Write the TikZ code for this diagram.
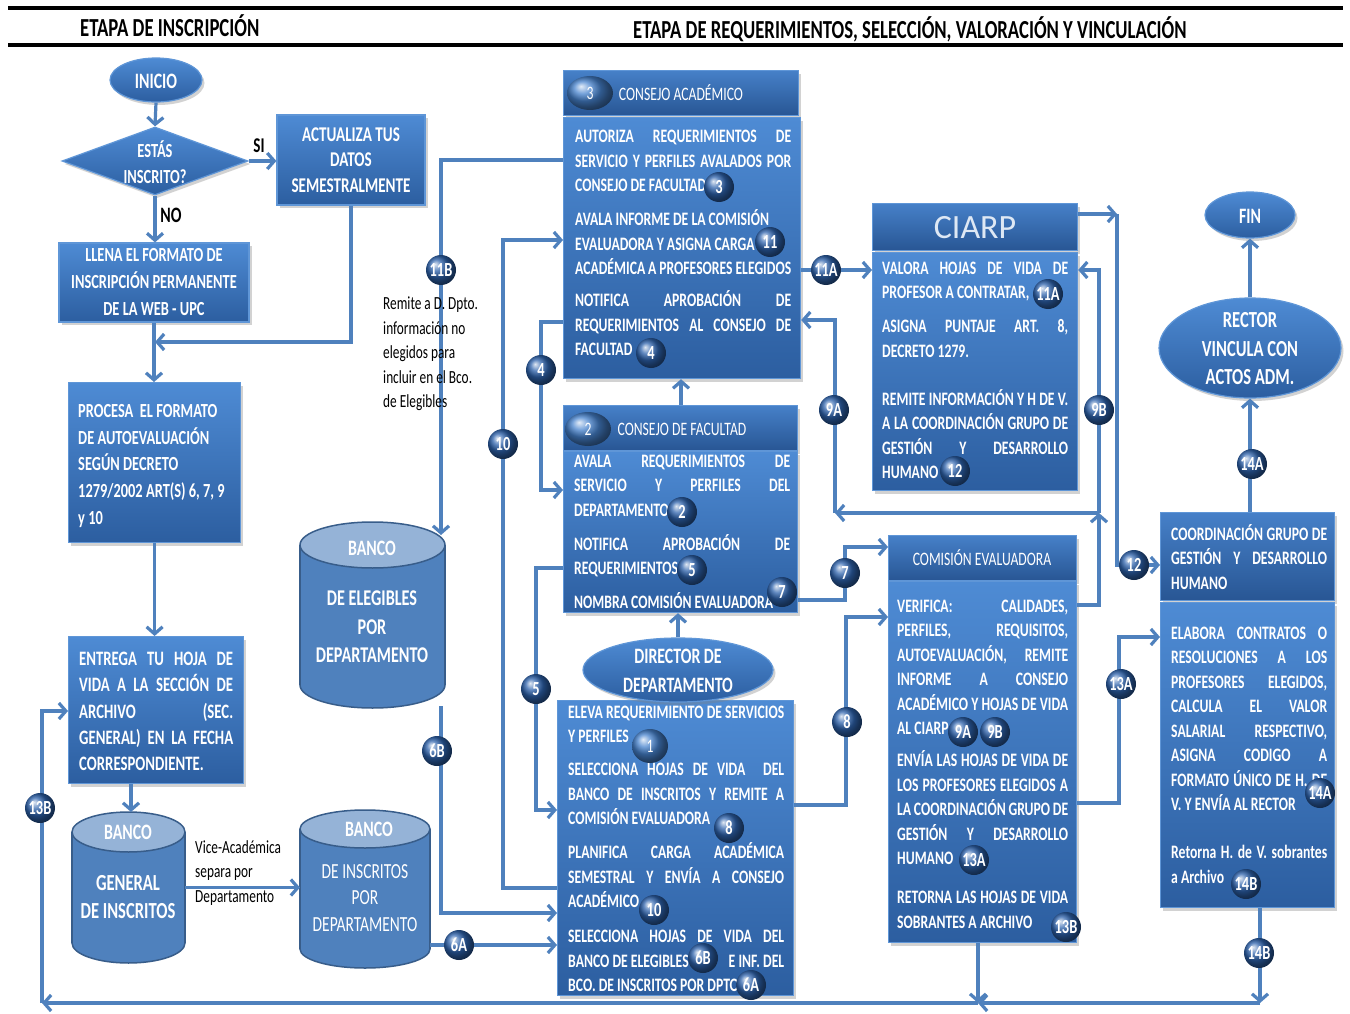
\documentclass[tikz,border=0pt]{standalone}
\usepackage{fontspec}
\setmainfont{Carlito}[FakeStretch=0.72]
\newfontfamily\widefont{Carlito}
\usetikzlibrary{arrows.meta,shapes.geometric,shadows}
\definecolor{lineblue}{RGB}{79,129,189}
\definecolor{boxtop}{RGB}{78,139,212}
\definecolor{boxbot}{RGB}{44,94,160}
\definecolor{boxedge}{RGB}{95,150,215}
\definecolor{hdrtop}{RGB}{70,128,200}
\definecolor{hdrbot}{RGB}{40,86,148}
\definecolor{cylbody}{RGB}{79,129,189}
\definecolor{cyltop}{RGB}{149,179,215}
\definecolor{cyledge}{RGB}{56,93,138}
\definecolor{badgeblue}{RGB}{45,98,172}
\definecolor{softblue}{RGB}{70,130,205}
\definecolor{ciarptext}{RGB}{222,232,244}
\newcommand{\J}[1]{\makebox[\hsize][s]{#1}}
\newcommand{\fs}[2]{\fontsize{#1}{#2}\selectfont}
\newcommand{\cyl}[6]{%
 \node[anchor=north west, minimum width={#3pt-#2pt}, minimum height={#5pt-#4pt}, inner sep=0pt, outer sep=0pt] (#1) at (#2,#4) {};
 \filldraw[fill=cylbody, draw=cyledge, line width=1.5pt] ({(#2+#3)/2},{#5-#6}) ellipse[x radius={(#3-#2)/2}, y radius=#6];
 \fill[cylbody] (#2,{#4+#6}) rectangle (#3,{#5-#6});
 \draw[cyledge, line width=1.5pt] (#2,{#4+#6}) -- (#2,{#5-#6}) (#3,{#4+#6}) -- (#3,{#5-#6});
 \filldraw[fill=cyltop, draw=cyledge, line width=1.5pt] ({(#2+#3)/2},{#4+#6}) ellipse[x radius={(#3-#2)/2}, y radius=#6];
}
\tikzset{
 conn/.style={draw=lineblue, line width=3.2pt, line join=miter},
 arr/.style={conn, -{Straight Barb[length=7pt,width=16pt]}},
 shad/.style={drop shadow={shadow xshift=2.5pt, shadow yshift=-3pt, opacity=0.35}},
 box/.style={rectangle, draw=boxedge, line width=1.2pt, top color=boxtop, bottom color=boxbot, shad, inner sep=0pt, text=white, align=flush center, font=\bfseries\fs{20}{26}},
 hdr/.style={box, top color=hdrtop, bottom color=hdrbot},
 nw/.style={anchor=north west},
 oval/.style={ellipse, draw=boxedge, line width=1.2pt, top color=boxtop, bottom color=boxbot, shad, inner sep=0pt},
 wtxt/.style={text=white, inner sep=0pt, align=flush center, font=\bfseries\fs{20}{26}},
 btxt/.style={text=white, inner sep=0pt, align=flush left, anchor=base west, font=\bfseries\fs{19}{24.5}},
 htxt/.style={text=white, inner sep=0pt, font=\fs{19}{22}},
 dark/.style={text=black, inner sep=0pt, align=flush left, font=\fs{18.5}{24.5}},
 badge/.style={circle, minimum size=30pt, inner sep=0pt, ball color=badgeblue, text=white, font=\bfseries\fs{20}{20}},
 hball/.style={ellipse, minimum width=46pt, minimum height=34pt, inner sep=0pt, ball color=softblue, text=white, font=\fs{19}{19}},
}
\begin{document}
\begin{tikzpicture}[x=1pt,y=-1pt]
\useasboundingbox (0,0) rectangle (1350,1014);
\fill[white] (0,0) rectangle (1350,1014);
\draw[line width=4.5pt] (8,8) -- (1343,8);
\draw[line width=4.5pt] (8,45) -- (1343,45);
\node[anchor=base west, inner sep=0pt, font=\bfseries\fs{26}{26}] (t1) at (80,36.5) {ETAPA DE INSCRIPCIÓN};
\node[anchor=base west, inner sep=0pt, font=\bfseries\fs{26}{26}] (t2) at (633,38.5) {ETAPA DE REQUERIMIENTOS, SELECCIÓN, VALORACIÓN Y VINCULACIÓN};

% ---------- left column ----------
\node[oval, minimum width=92pt, minimum height=44pt] (inicio) at (156,80) {};
\node[wtxt, font=\bfseries\fs{22}{22}] at (156,81) {INICIO};
\node[diamond, draw=boxedge, line width=1.2pt, top color=boxtop, bottom color=boxbot, shad, minimum width=186pt, minimum height=68pt, inner sep=0pt] (dia) at (155,161) {};
\node[wtxt, font=\bfseries\fs{20}{26}] at (155,162) {ESTÁS\\INSCRITO?};
\node[box, minimum width=148pt, minimum height=90pt, font=\bfseries\fs{21}{25.5}] (act) at (351,160) {ACTUALIZA TUS\\DATOS\\SEMESTRALMENTE};
\node[box, minimum width=190pt, minimum height=79pt, font=\bfseries\fs{20}{27}] (llena) at (154,282.5) {LLENA EL FORMATO DE\\INSCRIPCIÓN PERMANENTE\\DE LA WEB - UPC};
\node[box, nw, minimum width=172pt, minimum height=160pt] (proc) at (68,382) {};
\node[btxt, text width=168pt, font=\bfseries\fs{20}{26.75}] at (78,417.4) {PROCESA\ \ EL FORMATO\\DE AUTOEVALUACIÓN\\SEGÚN DECRETO\\\mbox{1279/2002 ART(S) 6, 7, 9}\\y 10};
\node[box, nw, minimum width=175pt, minimum height=147pt] (entr) at (68,636) {};
\node[btxt, text width=154pt, font=\bfseries\fs{20.5}{26.25}] at (79,665.5) {\J{ENTREGA TU HOJA DE}\\\J{VIDA A LA SECCIÓN DE}\\\J{ARCHIVO (SEC.}\\\J{GENERAL) EN LA FECHA}\\CORRESPONDIENTE.};

\cyl{belg}{300}{445}{522}{708}{23}
\cyl{bgen}{72}{185}{812}{963}{20}
\cyl{bins}{300}{430}{810}{968}{19}
\node[wtxt, font=\bfseries\fs{22}{22}] at (372,548) {BANCO};
\node[wtxt, font=\bfseries\fs{22.5}{28.5}] at (372,627) {DE ELEGIBLES\\POR\\DEPARTAMENTO};
\node[wtxt, font=\bfseries\fs{22}{22}] at (128,832) {BANCO};
\node[wtxt, font=\bfseries\fs{23}{28}] at (128,897) {GENERAL\\DE INSCRITOS};
\node[wtxt, font=\bfseries\fs{22}{22}] at (369,829) {BANCO};
\node[wtxt, font=\fs{21.5}{26.5}] at (365,898) {DE INSCRITOS\\POR\\DEPARTAMENTO};

% ---------- middle column ----------
\node[hdr, nw, minimum width=235pt, minimum height=45pt] (cah) at (563,70) {};
\node[hball] (cah3) at (590,93) {3};
\node[htxt] at (681,93) {CONSEJO ACADÉMICO};
\node[box, nw, minimum width=237pt, minimum height=261pt] (ca) at (563,117) {};
\node[btxt, text width=216pt] at (575,143) {\J{AUTORIZA REQUERIMIENTOS DE}\\\J{SERVICIO Y PERFILES AVALADOS POR}\\CONSEJO DE FACULTAD\\[9.5pt]AVALA INFORME DE LA COMISIÓN\\EVALUADORA Y ASIGNA CARGA\\\J{ACADÉMICA A PROFESORES ELEGIDOS}\\[7.5pt]\J{NOTIFICA APROBACIÓN DE}\\\J{REQUERIMIENTOS AL CONSEJO DE}\\FACULTAD};

\node[hdr, nw, minimum width=234pt, minimum height=45pt] (cfh) at (563,405) {};
\node[hball] (cfh2) at (588,429) {2};
\node[htxt] at (682,429) {CONSEJO DE FACULTAD};
\node[box, nw, minimum width=234pt, minimum height=161pt] (cf) at (563,451) {};
\node[btxt, text width=216pt] at (574,467) {\J{AVALA REQUERIMIENTOS DE}\\\J{SERVICIO Y PERFILES DEL}\\DEPARTAMENTO\\[9.5pt]\J{NOTIFICA APROBACIÓN DE}\\REQUERIMIENTOS\\[9.5pt]NOMBRA COMISIÓN EVALUADORA};

\node[box, nw, minimum width=236pt, minimum height=295pt] (db) at (557,700) {};
\node[oval, minimum width=190pt, minimum height=64pt] (dir) at (678,670) {};
\node[wtxt, font=\bfseries\fs{22}{29}] at (678,671) {DIRECTOR DE\\DEPARTAMENTO};
\node[btxt, text width=216pt] at (568,718) {\J{ELEVA REQUERIMIENTO DE SERVICIOS}\\Y PERFILES\\[8.5pt]\J{SELECCIONA HOJAS DE VIDA\ \ DEL}\\\J{BANCO DE INSCRITOS Y REMITE A}\\COMISIÓN EVALUADORA\\[9.5pt]\J{PLANIFICA CARGA ACADÉMICA}\\\J{SEMESTRAL Y ENVÍA A CONSEJO}\\ACADÉMICO\\[10.5pt]\J{SELECCIONA HOJAS DE VIDA DEL}\\\J{BANCO DE ELEGIBLES\hspace{40pt}E INF. DEL}\\BCO. DE INSCRITOS POR DPTO.};

% ---------- right columns ----------
\node[hdr, nw, minimum width=205pt, minimum height=47pt] (cih) at (872,203) {};
\node[text=ciarptext, inner sep=0pt, font=\widefont\fs{34}{34}] at (975,228) {CIARP};
\node[box, nw, minimum width=205pt, minimum height=238pt] (ci) at (872,252) {};
\node[btxt, text width=186pt] at (882,274) {\J{VALORA HOJAS DE VIDA DE}\\PROFESOR A CONTRATAR,\\[9.5pt]\J{ASIGNA PUNTAJE ART. 8,}\\DECRETO 1279.\\[23.5pt]\J{REMITE INFORMACIÓN Y H DE V.}\\\J{A LA COORDINACIÓN GRUPO DE}\\\J{GESTIÓN Y DESARROLLO}\\HUMANO};

\node[hdr, nw, minimum width=188pt, minimum height=45pt] (ceh) at (888,535) {};
\node[htxt] at (982,558) {COMISIÓN EVALUADORA};
\node[box, nw, minimum width=188pt, minimum height=361pt] (ce) at (888,581) {};
\node[btxt, text width=171pt] at (897,612) {\J{VERIFICA: CALIDADES,}\\\J{PERFILES, REQUISITOS,}\\\J{AUTOEVALUACIÓN, REMITE}\\\J{INFORME A CONSEJO}\\\J{ACADÉMICO Y HOJAS DE VIDA}\\AL CIARP\\[7.5pt]\J{ENVÍA LAS HOJAS DE VIDA DE}\\\J{LOS PROFESORES ELEGIDOS A}\\\J{LA COORDINACIÓN GRUPO DE}\\\J{GESTIÓN Y DESARROLLO}\\HUMANO\\[14.5pt]\J{RETORNA LAS HOJAS DE VIDA}\\SOBRANTES A ARCHIVO};

\node[hdr, nw, minimum width=174pt, minimum height=88pt] (coh) at (1160,512) {};
\node[btxt, text width=156pt] at (1171,540) {\J{COORDINACIÓN GRUPO DE}\\\J{GESTIÓN Y DESARROLLO}\\HUMANO};
\node[box, nw, minimum width=174pt, minimum height=305pt] (co) at (1160,602) {};
\node[btxt, text width=156pt] at (1171,639) {\J{ELABORA CONTRATOS O}\\\J{RESOLUCIONES A LOS}\\\J{PROFESORES ELEGIDOS,}\\\J{CALCULA EL VALOR}\\\J{SALARIAL RESPECTIVO,}\\\J{ASIGNA CODIGO A}\\\J{FORMATO ÚNICO DE H. DE}\\V. Y ENVÍA AL RECTOR\\[23.5pt]\J{Retorna H. de V. sobrantes}\\a Archivo};

\node[oval, minimum width=182pt, minimum height=100pt] (rec) at (1250,348) {};
\node[wtxt, font=\bfseries\fs{23}{28.5}] at (1250,349) {RECTOR\\VINCULA CON\\ACTOS ADM.};
\node[oval, minimum width=90pt, minimum height=46pt] (fin) at (1250,215) {};
\node[wtxt, font=\bfseries\fs{22}{22}] at (1250,216) {FIN};

% ---------- connectors ----------
\coordinate (j1) at (155,342);
\coordinate (belgin) at (441,535);
\coordinate (belgout) at (441,706);
\coordinate (j9) at (1099,513);
\coordinate (j9a) at (835,513);
\coordinate (j12) at (1117,214);
\coordinate (jb1) at (1260,1003);
\coordinate (jb2) at (978,1003);
\coordinate (jb3) at (42,1003);

\draw[arr] (inicio.south) -- (dia.north);
\draw[arr] (dia.east) -- (dia.east -| act.west);
\draw[arr] (dia.south) -- (dia.south |- llena.north);
\draw[arr] (llena.south) -- (llena.south |- proc.north);
\draw[arr] (act.south) |- (j1);
\draw[arr] (proc.south) -- (proc.south |- entr.north);
\draw[arr] (entr.south -| 131,0) -- (bgen.north -| 131,0);
\draw[arr] (bgen.east) -- (bgen.east -| bins.west);
\draw[arr] (ca.west |- 0,160) -| (belgin);
\draw[arr] (belgout) |- (db.west |- 0,913);
\draw[arr] (bins.east |- 0,945) -- (db.west |- 0,945);
\draw[arr] (ca.west |- 0,322) -- (541,322) -- (541,490) -- (cf.west |- 0,490);
\draw[arr] (db.west |- 0,888) -- (503,888) -- (503,240) -- (ca.west |- 0,240);
\draw[arr] (cf.west |- 0,568) -- (536,568) -- (536,810) -- (db.west |- 0,810);
\draw[arr] (cfh.north -| 681,0) -- (ca.south -| 681,0);
\draw[arr] (dir.north) -- (dir.north |- cf.south);
\draw[arr] (ca.east |- 0,270) -- (ci.west |- 0,270);
\draw[arr] (ce.east |- 0,605) -- (1099,605) -- (j9);
\draw[arr] (j9) -- (1099,270) -- (ci.east |- 0,270);
\draw[arr] (j9) -- (j9a);
\draw[arr] (j9a) -- (835,320) -- (ca.east |- 0,320);
\draw[arr] (cf.east |- 0,600) -- (845,600) -- (845,547) -- (ceh.west |- 0,547);
\draw[arr] (db.east |- 0,805) -- (846,805) -- (846,617) -- (ce.west |- 0,617);
\draw[arr] (cih.east |- 0,214) -- (j12);
\draw[arr] (j12) -- (1117,565) -- (coh.west |- 0,565);
\draw[arr] (ce.east |- 0,803) -- (1119,803) -- (1119,637) -- (co.west |- 0,637);
\draw[arr] (coh.north -| rec.south) -- (rec.south);
\draw[arr] (rec.north) -- (fin.south);
\draw[arr] (co.south -| jb1) -- (jb1);
\draw[arr] (jb1) -- (jb2);
\draw[arr] (ce.south -| jb2) -- (jb2);
\draw[arr] (jb2) -- (jb3);
\draw[arr] (jb3) -- (42,711) -- (entr.west |- 0,711);

% ---------- labels ----------
\node[inner sep=0pt, font=\bfseries\fs{21}{21}] (si) at (259,146) {SI};
\node[inner sep=0pt, font=\bfseries\fs{22}{22}] (no) at (171,215) {NO};
\node[dark, anchor=west] (rem) at (383,354) {Remite a D. Dpto.\\información no\\elegidos para\\incluir en el Bco.\\de Elegibles};
\node[dark, anchor=west] (vice) at (195,873) {Vice-Académica\\separa por\\Departamento};

% ---------- badges ----------
\node[hball, minimum width=36pt] (b1) at (650,746) {1};
\foreach \n/\p/\t in {b3/{719,187}/3, b11/{770,242}/11, b4/{651,353}/4, b2/{682,512}/2, b5/{692,570}/5, b7/{782,592}/7, b8/{729,828}/8, b10/{654,910}/10, b6b/{703,958}/6B, b6a/{751,985}/6A, b11a/{1048,294}/11A, b12/{955,471}/12, b9a/{963,732}/9A, b9b/{995,732}/9B, b13a/{974,860}/13A, b13b/{1066,927}/13B, b14a/{1320,793}/14A, b14b/{1246,884}/14B, c11b/{441,270}/11B, c6b/{437,751}/6B, c6a/{459,945}/6A, c4/{541,370}/4, c10/{503,444}/10, c5/{536,689}/5, c11a/{826,270}/11A, c9a/{834,410}/9A, c9b/{1099,410}/9B, c7/{845,573}/7, c8/{847,722}/8, c12/{1134,565}/12, c13a/{1121,684}/13A, c14a/{1252,464}/14A, c14b/{1259,953}/14B, c13b/{40,808}/13B}
  \node[badge] (\n) at (\p) {\t};
\end{tikzpicture}
\end{document}
